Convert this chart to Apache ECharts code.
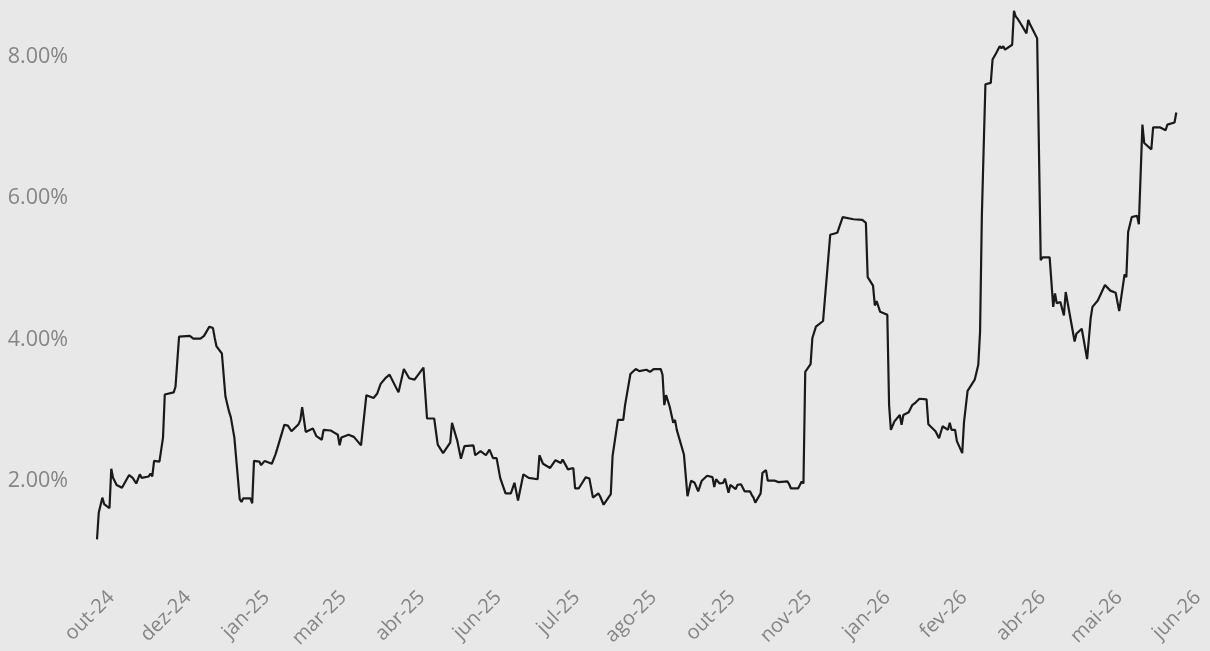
<!DOCTYPE html>
<html>
<head>
<meta charset="utf-8">
<script src="https://cdn.jsdelivr.net/npm/echarts@6/dist/echarts.min.js"></script>
<style>
html,body{margin:0;padding:0;background:#e8e8e8;}
#chart{width:1210px;height:651px;}
</style>
</head>
<body>
<div id="chart"></div>
<script>
// Series start date; each point is a number of days after it
const startDate = '2024-10-21';
const dayOffsets = [
  0,1,2,3,4,7,8,9,11,14,18,20,22,24,25,29,30,31,32,35,37,38,39,43,44,46,52,54,58,60,63,65,66,67,70,72,74,75,77,80,81,82,86,87,88,91,92,94,98,100,
  101,105,107,109,113,114,115,117,121,123,126,127,131,133,135,136,137,141,144,148,151,155,157,159,162,164,169,172,175,178,183,185,189,191,194,198,199,202,204,206,211,212,215,
  218,220,222,224,226,227,229,232,234,236,239,242,247,248,250,254,257,260,261,264,267,268,270,274,276,278,281,282,284,288,289,290,292,295,296,297,299,302,304,308,310,312,316,317,318,319,321,323,324,325,326,
  329,331,333,335,337,339,342,345,346,347,349,351,352,354,355,358,359,361,363,366,367,368,369,372,373,375,376,380,382,387,388,389,393,395,396,397,400,401,402,403,407,411,415,416,418,424,429,431,432,435,436,437,439,440,443,444,445,447,450,451,452,455,457,459,460,461,465,466,
  470,472,474,477,478,479,481,482,485,486,487,488,489,492,494,495,496,497,498,501,502,504,506,507,508,509,513,514,515,516,518,521,522,523,525,527,529,530,534,536,537,538,540,541,542,543,548,549,552,555,557,558,561,565,568,571,573,576,577,578,580,583,584,585,586,587,591,592,596,599,600,604,605
];
// Values in percent
const values = [
  1.17,1.55,1.55,1.76,1.67,1.61,2.17,2.04,1.94,1.90,2.08,2.04,1.96,2.09,2.04,2.06,2.10,2.06,2.28,2.27,2.61,3.22,3.21,3.25,3.33,4.04,4.05,4.01,4.01,4.05,4.18,4.16,4.02,3.90,3.80,3.19,2.98,2.90,2.61,1.74,1.70,1.75,1.75,1.68,2.28,2.27,2.22,2.28,2.24,2.37,
  2.45,2.79,2.78,2.70,2.80,2.86,3.04,2.69,2.74,2.63,2.58,2.72,2.71,2.68,2.65,2.50,2.61,2.65,2.62,2.50,3.21,3.17,3.23,3.37,3.46,3.50,3.25,3.58,3.45,3.43,3.60,2.88,2.88,2.51,2.39,2.54,2.82,2.56,2.31,2.49,2.50,2.36,2.42,
  2.36,2.44,2.32,2.32,2.04,2.02,1.82,1.82,1.97,1.72,2.09,2.04,2.02,2.36,2.24,2.18,2.29,2.25,2.30,2.16,2.18,1.89,1.89,2.05,2.03,1.76,1.82,1.78,1.66,1.81,2.35,2.37,2.86,2.86,3.07,3.07,3.51,3.58,3.55,3.57,3.54,3.58,3.58,3.50,3.07,3.21,3.05,2.82,2.86,2.72,2.70,
  2.37,1.78,2.00,1.97,1.85,2.00,2.07,2.05,1.91,2.02,1.96,1.97,2.03,1.83,1.94,1.88,1.94,1.95,1.85,1.85,1.80,1.76,1.69,1.82,2.11,2.15,2.00,2.00,1.98,1.99,1.95,1.89,1.89,1.99,1.96,3.54,3.65,4.02,4.04,4.18,4.26,5.48,5.51,5.52,5.73,5.70,5.69,5.65,4.88,4.76,4.48,4.54,4.39,4.41,4.35,3.07,2.72,2.84,2.93,2.79,2.93,2.97,3.07,3.11,3.11,3.16,3.15,2.80,
  2.70,2.60,2.77,2.72,2.82,2.72,2.72,2.56,2.39,2.83,2.83,3.27,3.31,3.43,3.64,4.11,5.75,6.69,7.61,7.63,7.96,8.05,8.15,8.12,8.15,8.10,8.17,8.65,8.57,8.54,8.46,8.33,8.52,8.46,8.36,8.26,5.12,5.16,5.16,4.46,4.65,4.51,4.53,4.54,4.34,4.67,3.97,4.08,4.15,3.72,4.30,4.46,4.55,4.77,4.69,4.66,4.40,4.92,4.88,5.52,5.73,5.75,5.63,5.65,7.04,6.78,6.69,7.00,7.00,6.96,7.04,7.07,7.21
];
// X tick positions and their labels
const tickDates = ['2024-10-29','2024-12-11','2025-01-24','2025-03-08','2025-04-21','2025-06-03','2025-07-17','2025-08-29','2025-10-12','2025-11-24','2026-01-07','2026-02-19','2026-04-04','2026-05-17','2026-06-30'];
const tickLabels = ['out-24','dez-24','jan-25','mar-25','abr-25','jun-25','jul-25','ago-25','out-25','nov-25','jan-26','fev-26','abr-26','mai-26','jun-26'];
const axisEndDate = '2026-07-01';
const yTicks = [2, 4, 6, 8];

const DAY = 86400000;
const t0 = Date.parse(startDate + 'T00:00:00Z');
const dayOf = s => Math.round((Date.parse(s + 'T00:00:00Z') - t0) / DAY);
const n = Math.min(dayOffsets.length, values.length);
const seriesData = [];
for (let i = 0; i < n; i++) seriesData.push([dayOffsets[i], values[i]]);
const tickDays = tickDates.map(dayOf);
const endDay = dayOf(axisEndDate);

const chart = echarts.init(document.getElementById('chart'), null, {renderer: 'canvas'});
chart.setOption({
  backgroundColor: '#e8e8e8',
  animation: false,
  grid: {left: 97, right: 10.5, top: 3.75, bottom: 97, containLabel: false},
  xAxis: {
    type: 'value',
    min: 0,
    max: endDay,
    interval: endDay / 2,
    axisLine: {show: false},
    axisTick: {show: false},
    splitLine: {show: false},
    axisLabel: {
      customValues: tickDays,
      rotate: 45,
      margin: 43,
      color: '#858585',
      fontFamily: 'Open Sans',
      fontSize: 20,
      formatter: function (v) {
        const i = tickDays.indexOf(Math.round(v));
        return i >= 0 ? tickLabels[i] : '';
      }
    }
  },
  yAxis: {
    type: 'value',
    min: 1,
    max: 8.75,
    interval: 1,
    axisLine: {show: false},
    axisTick: {show: false},
    splitLine: {show: false},
    axisLabel: {
      margin: 29,
      color: '#858585',
      fontFamily: 'Open Sans',
      fontSize: 21.5,
      showMaxLabel: false,
      formatter: function (v) {
        return yTicks.indexOf(v) >= 0 ? v.toFixed(2) + '%' : '';
      }
    }
  },
  series: [{
    type: 'line',
    data: seriesData,
    showSymbol: false,
    symbol: 'none',
    lineStyle: {color: '#1a1a1a', width: 2.2},
    silent: true
  }]
});
</script>
</body>
</html>
